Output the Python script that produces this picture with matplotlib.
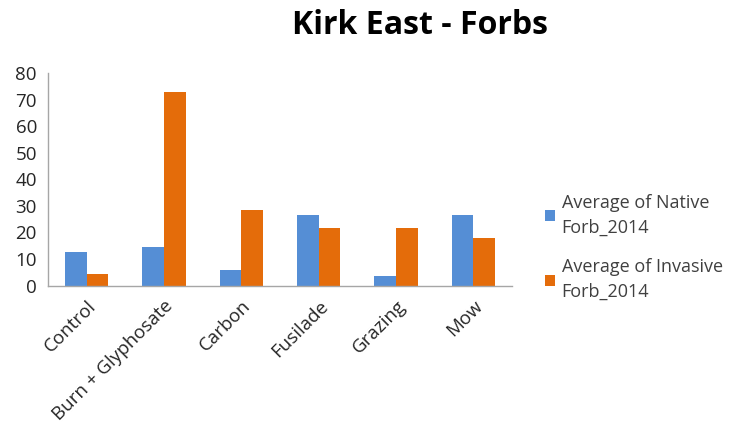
import matplotlib.pyplot as plt
import numpy as np

# Average forb cover by treatment, Kirk East 2014
treatments = ["Control", "Burn + Glyphosate", "Carbon", "Fusilade", "Grazing", "Mow"]
native_2014 = [12.6, 14.5, 5.7, 26.5, 3.5, 26.5]
invasive_2014 = [4.5, 72.8, 28.3, 21.8, 21.5, 17.9]
y_ticks = [0, 10, 20, 30, 40, 50, 60, 70, 80]

plt.rcParams['font.family'] = ['Open Sans', 'DejaVu Sans']

fig = plt.figure(figsize=(7.4, 4.25), dpi=100)
ax = fig.add_axes([0.065, 0.328, 0.627, 0.50])

x = np.arange(len(treatments))
w = 0.28
ax.bar(x - w / 2, native_2014, w, color='#558ED5', label='Average of Native\nForb_2014')
ax.bar(x + w / 2, invasive_2014, w, color='#E46C0A', label='Average of Invasive\nForb_2014')

ax.set_xlim(-0.5, len(treatments) - 0.5)
ax.set_ylim(0, 80)
ax.set_yticks(y_ticks)
ax.set_xticks(x)
ax.set_xticklabels(treatments, rotation=45, ha='right', rotation_mode='anchor')
ax.tick_params(axis='both', length=0, labelsize=13.5, colors='#262626')
ax.tick_params(axis='x', pad=8)
ax.tick_params(axis='y', pad=8)

for s in ['top', 'right']:
    ax.spines[s].set_visible(False)
for s in ['left', 'bottom']:
    ax.spines[s].set_color('#A6A6A6')
    ax.spines[s].set_linewidth(1.0)

fig.text(0.568, 0.94, "Kirk East - Forbs", ha='center', va='center',
         fontsize=23, fontweight='bold', color='black')

leg = ax.legend(loc='center left', bbox_to_anchor=(1.035, 0.18), frameon=False,
                fontsize=13, handlelength=0.6, handleheight=0.6, handletextpad=0.35,
                labelspacing=1.2, labelcolor='#404040')
for t in leg.get_texts():
    t.set_linespacing(1.5)

fig.savefig('out.png', dpi=100)
